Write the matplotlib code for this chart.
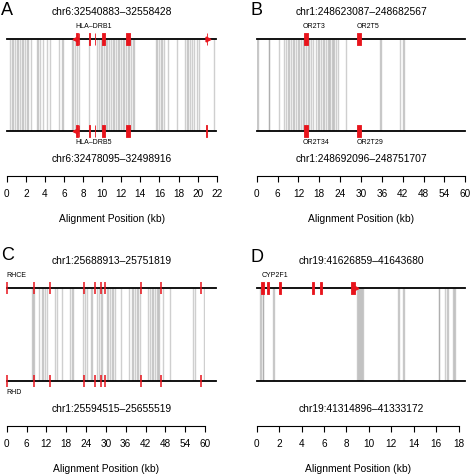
import matplotlib
matplotlib.use("Agg")
import matplotlib.pyplot as plt

plt.rcParams['font.family'] = ['Liberation Sans', 'DejaVu Sans']

# ---- panel A : HLA-DRB1 / HLA-DRB5 ----
a_top = "chr6:32540883\u201332558428"
a_bot = "chr6:32478095\u201332498916"
a_len = 21.93
a_ticks = [0, 2, 4, 6, 8, 10, 12, 14, 16, 18, 20, 22]
a_hits = [0.35, 0.52, 0.70, 0.87, 1.04, 1.22, 1.39, 1.57, 1.74, 1.92, 2.09, 2.27, 2.51,
          3.14, 3.31, 3.49, 3.77, 4.26, 4.54, 5.51, 5.76, 5.87,
          6.81, 6.98, 7.16, 7.40, 7.54, 8.66,
          9.50, 9.67, 9.85, 10.02, 10.20, 10.40, 10.54, 10.75, 10.93, 11.10, 11.28,
          11.45, 11.63, 11.80, 11.98, 12.15, 12.32, 12.50, 12.68, 12.85, 13.02, 13.20, 13.37,
          15.61, 15.78, 15.96, 16.13, 16.31, 16.48, 16.87, 17.88,
          18.68, 18.85, 19.03, 19.21, 19.38, 19.63, 19.91, 20.18, 21.72]
a_exons_top = [(7.22, 7.45), (7.55, 7.6), (8.63, 8.71), (9.2, 9.3), (9.98, 10.33), (12.53, 12.89), (20.95, 21.02)]
a_exons_bot = [(7.22, 7.45), (7.55, 7.6), (8.63, 8.71), (9.2, 9.3), (9.98, 10.33), (12.5, 12.89), (20.92, 21.0)]
a_arrows_top = [(7.18, '<'), (21.08, '>')]
a_arrows_bot = [(7.18, '<')]
a_genes = ("HLA\u2013DRB1", 7.2, "HLA\u2013DRB5", 7.2)

# ---- panel B : OR2T genes ----
b_top = "chr1:248623087\u2013248682567"
b_bot = "chr1:248692096\u2013248751707"
b_len = 60.0
b_ticks = [0, 6, 12, 18, 24, 30, 36, 42, 48, 54, 60]
b_hits = [0.05, 0.28, 3.45, 3.64, 6.32, 7.95, 8.43, 8.91, 9.39, 9.87, 10.35, 10.83, 11.30,
          11.78, 12.26, 12.74, 13.22, 13.70, 14.18, 14.66, 15.14, 15.62, 16.10, 17.06,
          17.54, 18.01, 18.49, 18.97, 19.45, 19.93, 20.41, 20.89, 21.17, 21.56, 21.85,
          22.33, 22.81, 23.28, 25.68, 35.46, 35.75, 41.21, 41.98, 42.46]
b_exons_top = [(13.7, 14.8), (28.9, 30.1)]
b_exons_bot = [(13.7, 14.8), (28.9, 30.1)]
b_labels_top = [("OR2T3", 13.2), ("OR2T5", 28.6)]
b_labels_bot = [("OR2T34", 13.2), ("OR2T29", 28.6)]

# ---- panel C : RHCE / RHD ----
c_top = "chr1:25688913\u201325751819"
c_bot = "chr1:25594515\u201325655519"
c_len = 63.3
c_ticks = [0, 6, 12, 18, 24, 30, 36, 42, 48, 54, 60]
c_hits = [7.55, 8.06, 8.36, 9.87, 10.58, 11.08, 11.59, 12.09, 14.61, 15.12, 16.63,
          19.15, 19.66, 20.16, 23.19, 23.69, 24.20, 25.41, 25.71, 27.42, 27.93, 28.43,
          28.74, 30.25, 30.76, 31.26, 31.76, 32.27, 32.77, 34.59, 37.11, 37.81, 38.32,
          38.82, 39.33, 39.83, 40.34, 42.86, 43.36, 43.87, 44.37, 44.88, 45.38, 45.88,
          46.19, 47.40, 49.41, 56.47, 56.98, 59.70, 60.51, 61.01]
c_marks = [0.05, 8.26, 13.1, 23.48, 26.8, 28.53, 29.84, 40.53, 46.69, 58.79]
c_genes = ("RHCE", 0.0, "RHD", 0.0)

# ---- panel D : CYP2F1 ----
d_top = "chr19:41626859\u201341643680"
d_bot = "chr19:41314896\u201341333172"
d_len = 18.6
d_ticks = [0, 2, 4, 6, 8, 10, 12, 14, 16, 18]
d_hits = [0.29, 0.38, 0.53, 0.59, 1.48, 1.57, 8.91, 9.0, 9.09, 9.21, 9.30, 9.39, 9.5,
          12.56, 12.65, 13.07, 13.16, 16.22, 16.28, 16.81, 16.93, 17.05, 17.47, 17.62, 17.70]
d_exons_top = [(0.38, 0.62), (0.92, 1.12), (1.96, 2.14), (4.93, 5.13), (5.67, 5.85), (8.40, 8.79)]
d_arrows_top = [(8.88, '>')]

RED = '#e8141c'
H = 0.068  # half height of exon boxes (axes fraction)

fig = plt.figure(figsize=(4.72, 4.74), dpi=100)
W, HH = 472.0, 474.0


def make_ax(x0, x1, ytop, ybot, tmax):
    ax = fig.add_axes([x0 / W, 1 - ybot / HH, (x1 - x0) / W, (ybot - ytop) / HH])
    ax.set_xlim(0, tmax)
    ax.set_ylim(0, 1)
    for s in ['top', 'right', 'left']:
        ax.spines[s].set_visible(False)
    ax.spines['bottom'].set_position(('outward', 32.4))
    ax.spines['bottom'].set_bounds(0, tmax)
    ax.spines['bottom'].set_linewidth(0.8)
    ax.set_yticks([])
    ax.tick_params(axis='x', direction='out', length=4, width=0.8, pad=5.5, labelsize=7.2)
    ax.patch.set_alpha(0)
    return ax


def draw(ax, length, hits, ticks, top, bot):
    ax.vlines(hits, 0, 1, color='0.45', alpha=0.34, lw=1.0, zorder=1)
    ax.plot([0, length], [1, 1], color='black', lw=1.3, clip_on=False, zorder=2)
    ax.plot([0, length], [0, 0], color='black', lw=1.3, clip_on=False, zorder=2)
    ax.set_xticks(ticks)
    ax.set_xticklabels([str(t) for t in ticks])
    ax.set_xlabel("Alignment Position (kb)", fontsize=7.4, labelpad=11)
    ax.annotate(top, xy=(length / 2, 1), xycoords=('data', 'axes fraction'), xytext=(0, 19.5),
                textcoords='offset points', ha='center', va='center', fontsize=7.4)
    ax.annotate(bot, xy=(length / 2, 0), xycoords=('data', 'axes fraction'), xytext=(0, -20),
                textcoords='offset points', ha='center', va='center', fontsize=7.4)


def exons(ax, spans, y):
    ax.broken_barh([(s, e - s) for s, e in spans], (y - H, 2 * H), facecolor=RED,
                   edgecolor=RED, lw=0.6, clip_on=False, zorder=3)


def arrows(ax, arr, y):
    for x, m in arr:
        ax.plot([x], [y], marker=m, color=RED, ms=3.5, clip_on=False, zorder=3)


def gene_label(ax, txt, x, y, up=True):
    ax.annotate(txt, xy=(x, y), xycoords=('data', 'axes fraction'), xytext=(0, 9 if up else -8.6),
                textcoords='offset points', ha='left', va='center', fontsize=5)


# A
axA = make_ax(6.7, 216.7, 39, 131, 22)
draw(axA, a_len, a_hits, a_ticks, a_top, a_bot)
exons(axA, a_exons_top, 1)
exons(axA, a_exons_bot, 0)
arrows(axA, a_arrows_top, 1)
arrows(axA, a_arrows_bot, 0)
gene_label(axA, a_genes[0], a_genes[1], 1)
gene_label(axA, a_genes[2], a_genes[3], 0, up=False)

# B
axB = make_ax(256.7, 465.3, 39, 131, 60)
draw(axB, b_len, b_hits, b_ticks, b_top, b_bot)
exons(axB, b_exons_top, 1)
exons(axB, b_exons_bot, 0)
for t, x in b_labels_top:
    gene_label(axB, t, x, 1)
for t, x in b_labels_bot:
    gene_label(axB, t, x, 0, up=False)

# C
axC = make_ax(6.7, 205.0, 288, 381, 60)
draw(axC, c_len, c_hits, c_ticks, c_top, c_bot)
axC.vlines(c_marks, 1 - H, 1 + H, color=RED, lw=1.1, clip_on=False, zorder=3)
axC.vlines(c_marks, -H, H, color=RED, lw=1.1, clip_on=False, zorder=3)
gene_label(axC, c_genes[0], c_genes[1], 1)
gene_label(axC, c_genes[2], c_genes[3], 0, up=False)

# D
axD = make_ax(256.7, 458.7, 288, 381, 18)
draw(axD, d_len, d_hits, d_ticks, d_top, d_bot)
exons(axD, d_exons_top, 1)
arrows(axD, d_arrows_top, 1)
gene_label(axD, "CYP2F1", 0.4, 1)

# panel letters
for letter, px, py in [("A", 1, 2), ("B", 250, 2), ("C", 1, 247), ("D", 250, 249)]:
    fig.text(px / W, 1 - py / HH, letter, fontsize=13, ha='left', va='top')

fig.savefig("out.png", dpi=100)
